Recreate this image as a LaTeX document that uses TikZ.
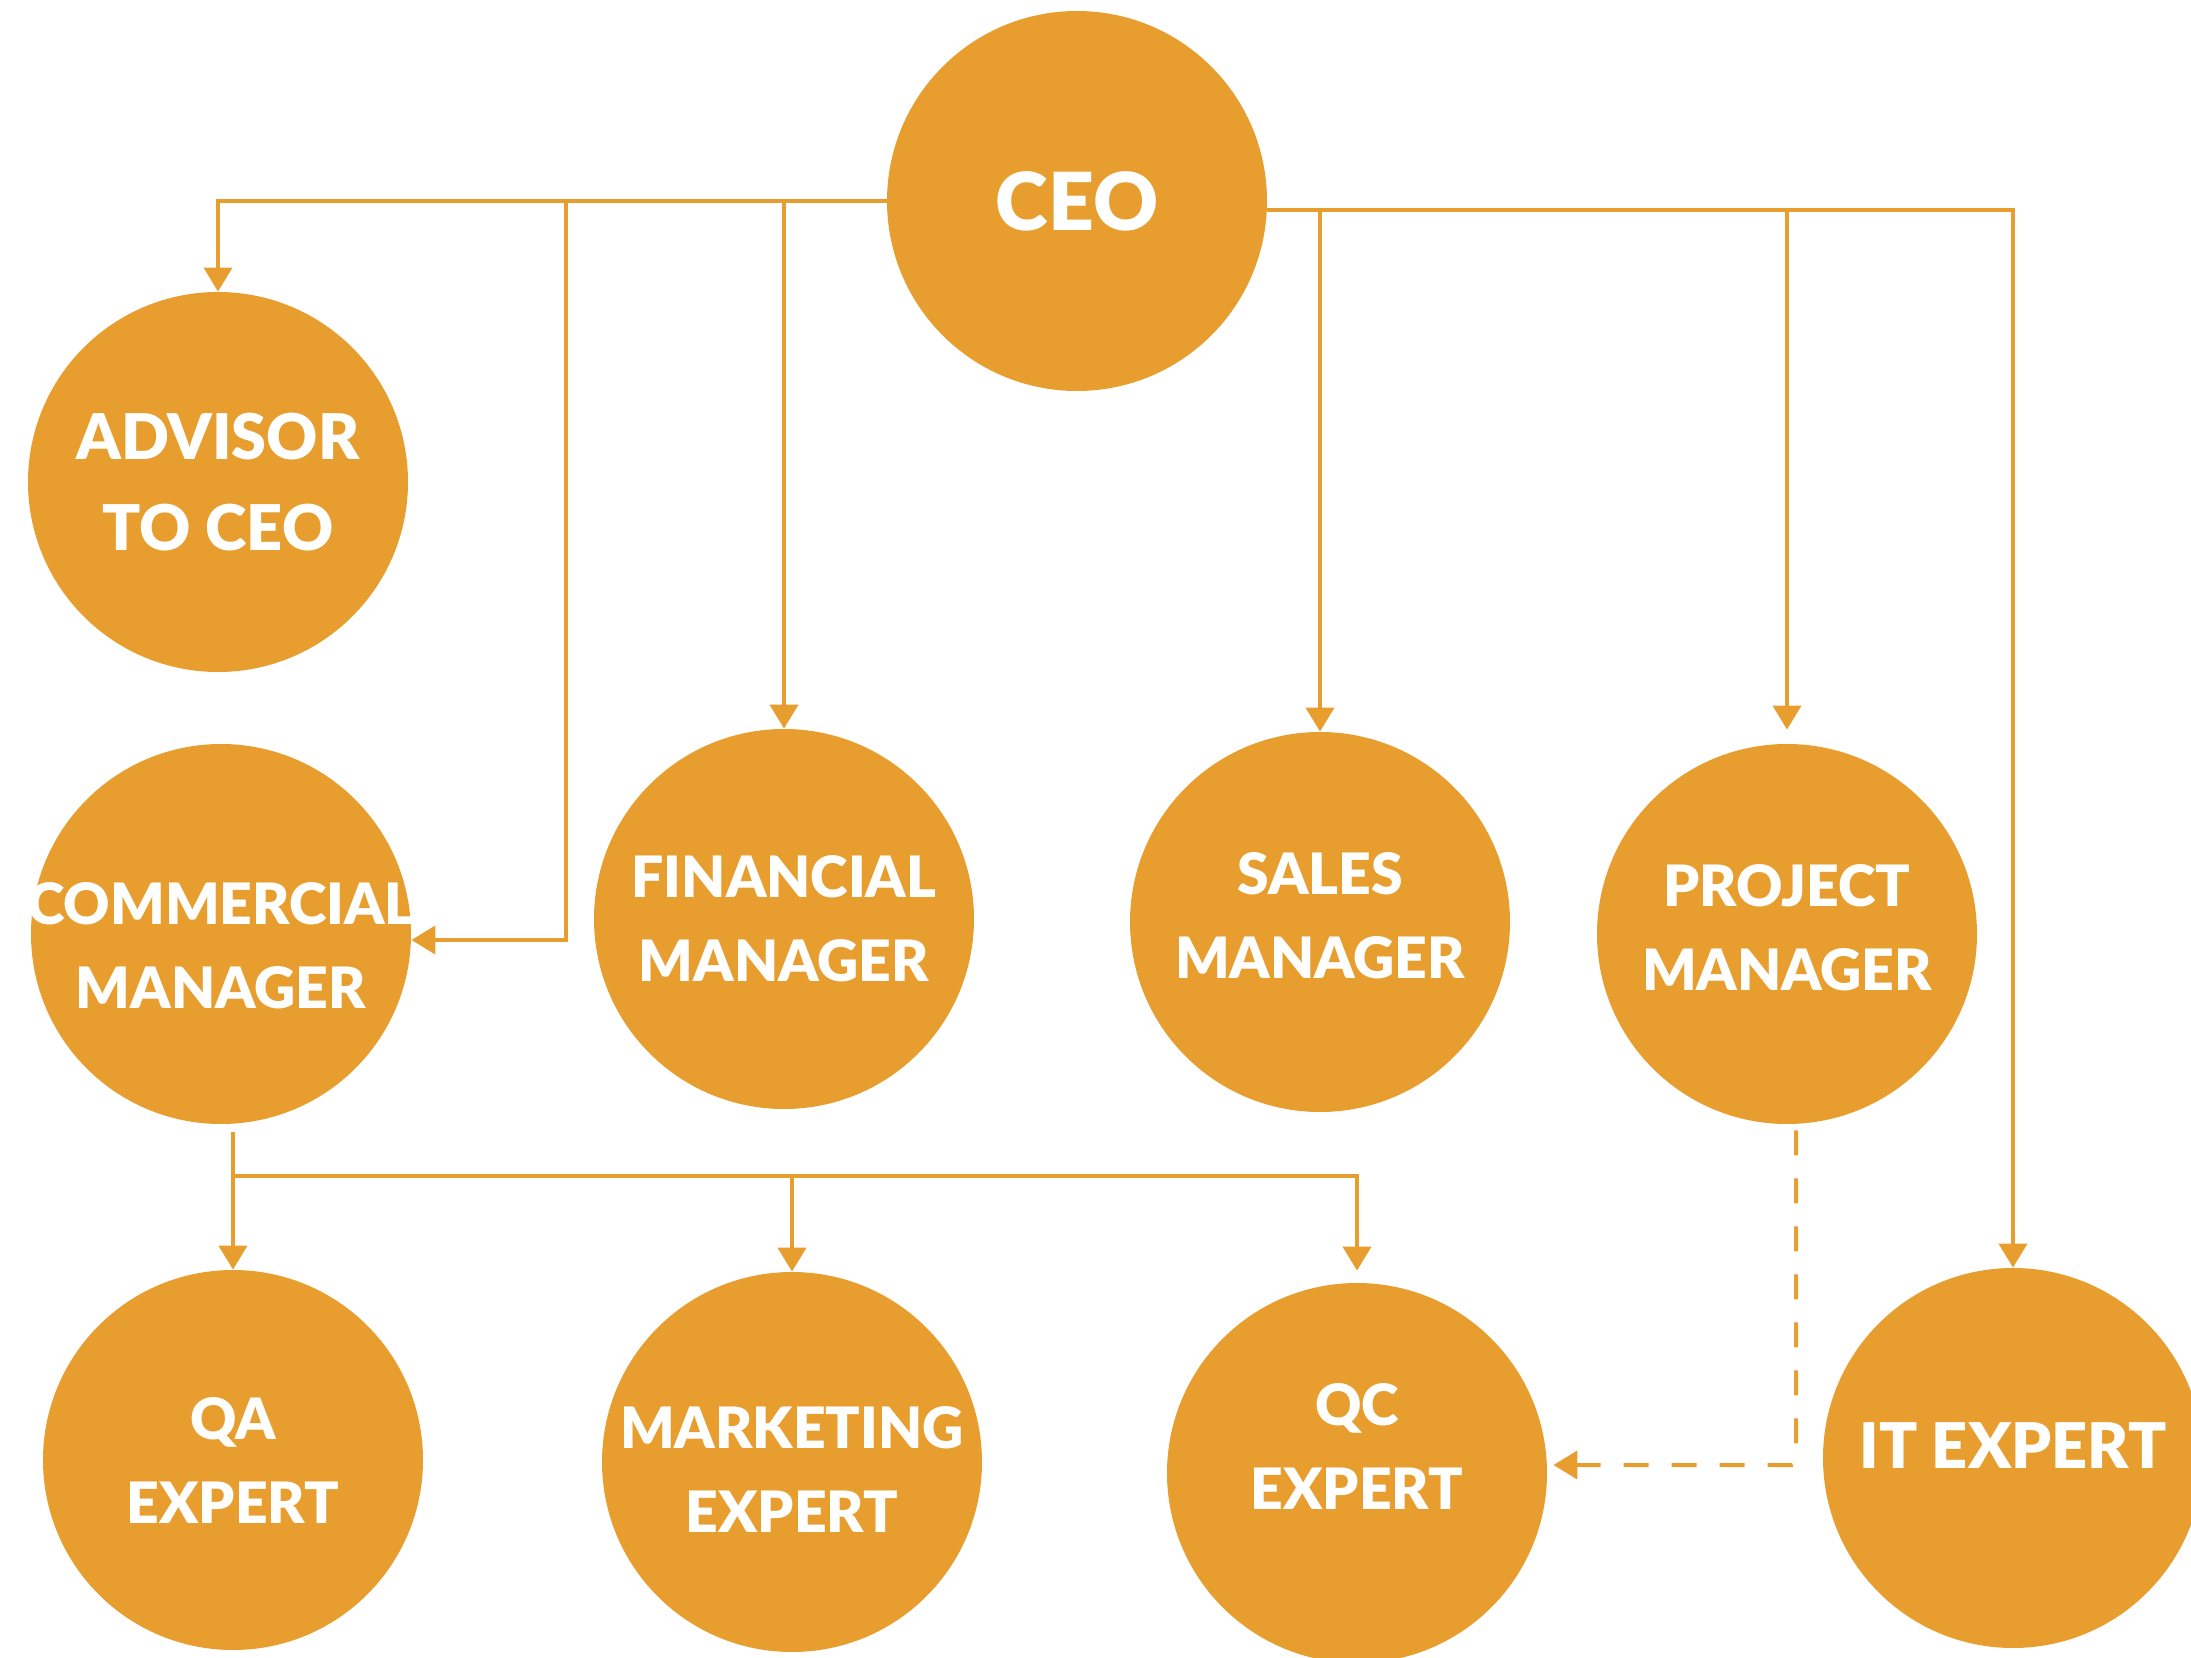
\documentclass[tikz,border=0pt]{standalone}
\usepackage{fontspec}
\setmainfont{Lato}[BoldFont={Lato Black}]
\usetikzlibrary{arrows.meta}
\definecolor{orgfill}{RGB}{232,158,46}
\tikzset{
  staff/.style={circle,fill=orgfill,minimum size=190pt,inner sep=0pt},
  txt/.style={text=white,font=\bfseries\fontsize{28.5}{42}\selectfont,align=center,inner sep=0pt},
  bigtxt/.style={txt,font=\bfseries\fontsize{31.5}{45.5}\selectfont},
  link/.style={draw=orgfill,line width=2pt,-{Triangle[width=14pt,length=12pt,fill=orgfill]}},
  dashlink/.style={link,dash pattern=on 12.5pt off 11.5pt,rounded corners=2pt}
}

\begin{document}
\begin{tikzpicture}[x=0.5pt,y=0.5pt,yscale=-1]
\useasboundingbox (0,0) rectangle (2191,1658);

%Shape: Circle
\node[staff,label={[txt,font=\bfseries\fontsize{40}{52}\selectfont]center:CEO}] (ceo) at (1077,201) {};
%Shape: Circle
\node[staff,label={[bigtxt]center:{ADVISOR\\TO CEO}}] (adv) at (218,482) {};
%Shape: Circle
\node[staff,label={[txt,yshift=-6pt]center:{COMMERCIAL\\MANAGER}}] (com) at (221,934) {};
%Shape: Circle
\node[staff,label={[txt]center:{FINANCIAL\\MANAGER}}] (fin) at (784,919) {};
%Shape: Circle
\node[staff,label={[txt,yshift=3pt]center:{SALES\\MANAGER}}] (sal) at (1320,922) {};
%Shape: Circle
\node[staff,label={[txt,yshift=3pt]center:{PROJECT\\MANAGER}}] (prj) at (1787,934) {};
%Shape: Circle
\node[staff,label={[txt]center:{QA\\EXPERT}}] (qa) at (233,1460) {};
%Shape: Circle
\node[staff,label={[txt,yshift=-4pt]center:{MARKETING\\EXPERT}}] (mkt) at (792,1462) {};
%Shape: Circle
\node[staff,label={[txt,yshift=13pt]center:{QC\\EXPERT}}] (qc) at (1357,1473) {};
%Shape: Circle
\node[staff,label={[bigtxt,yshift=6pt]center:IT EXPERT}] (it) at (2013,1458) {};

% branch points
\coordinate (lbar) at (566,201);
\coordinate (rbar) at ([yshift=4.5pt]ceo.east);
\coordinate (cbar) at (233,1176);

%Straight Lines
\draw[link] (ceo.west) -| (adv.north);
\draw[link] (lbar) |- ([yshift=3pt]com.east);
\draw[link] (fin.north |- lbar) -- (fin.north);
\draw[link] (rbar) -| (it.north);
\draw[link] (sal.north |- rbar) -- (sal.north);
\draw[link,shorten >=7pt] (prj.north |- rbar) -- (prj.north);
\draw[link] ([yshift=4pt]com.south -| qa.north) -- (qa.north);
\draw[link] (cbar) -| (mkt.north);
\draw[link,shorten >=6pt] (cbar) -| (qc.north);
%Dashed Line
\draw[dashlink,shorten >=3pt] ([xshift=4.5pt,yshift=3pt]prj.south) |- ([yshift=-4pt]qc.east);

\end{tikzpicture}
\end{document}
